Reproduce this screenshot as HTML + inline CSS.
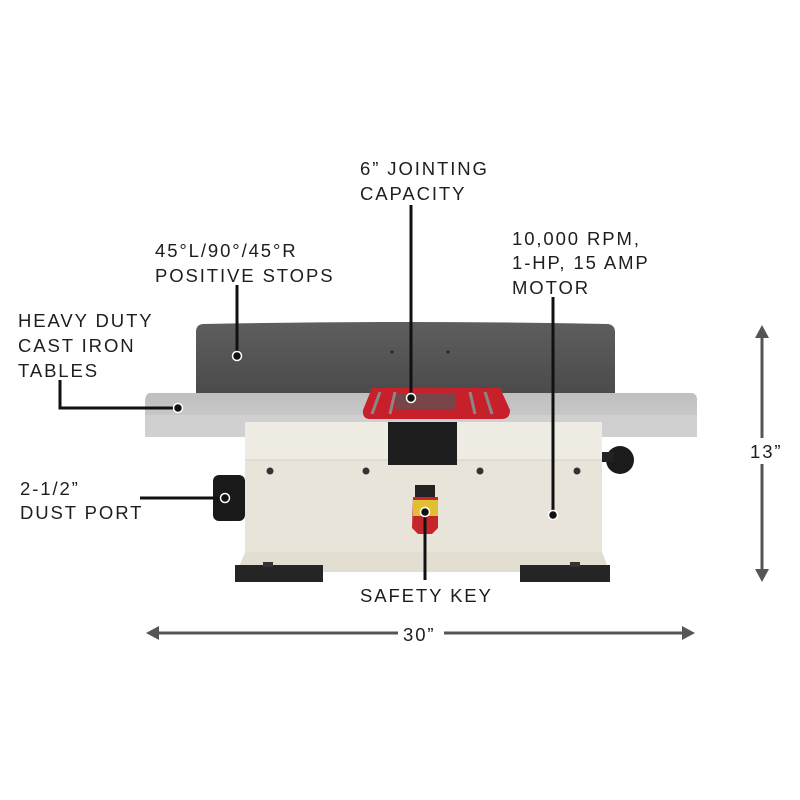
<!DOCTYPE html><html><head><style>body{margin:0;background:#fff}svg{display:block}text{font-family:"Liberation Sans",sans-serif;font-size:18.5px;fill:#1e1e1e;letter-spacing:1.9px}</style></head><body>
<svg width="800" height="800" viewBox="0 0 800 800">
<defs><linearGradient id="t" x1="0" y1="0" x2="0" y2="1"><stop offset="0" stop-color="#bfbfbf"/><stop offset="1" stop-color="#cfcfcf"/></linearGradient>
<linearGradient id="f" x1="0" y1="0" x2="0" y2="1"><stop offset="0" stop-color="#5e5e5e"/><stop offset="1" stop-color="#4a4a4a"/></linearGradient></defs>
<path d="M196,332 Q196,324 204,324 Q400,320 608,324 Q615,325 615,332 L615,396 L196,396 Z" fill="url(#f)"/>
<circle cx="392" cy="352" r="1.5" fill="#222"/><circle cx="448" cy="352" r="1.5" fill="#222"/>
<path d="M150,393 L692,393 Q698,394 697,402 L697,430 Q697,437 690,437 L150,437 Q145,437 145,430 L145,400 Q146,393 150,393Z" fill="url(#t)"/>
<rect x="145" y="415" width="552" height="22" fill="#d0d0d0"/>
<circle cx="620" cy="460" r="14" fill="#1b1b1b"/><rect x="600" y="452" width="14" height="10" fill="#222"/>
<rect x="213" y="475" width="32" height="46" rx="6" fill="#1a1a1a"/>
<rect x="245" y="422" width="357" height="130" fill="#e8e4d9"/>
<rect x="245" y="422" width="357" height="38" fill="#efece3"/>
<path d="M245,552 L602,552 L610,572 L237,572 Z" fill="#e2ded2"/>
<line x1="245" y1="460" x2="602" y2="460" stroke="#d5d0c4" stroke-width="1"/>
<rect x="235" y="565" width="88" height="17" fill="#252525"/>
<rect x="520" y="565" width="90" height="17" fill="#252525"/>
<rect x="263" y="562" width="10" height="5" fill="#333"/><rect x="570" y="562" width="10" height="5" fill="#333"/>
<circle cx="270" cy="471" r="3.5" fill="#333"/><circle cx="366" cy="471" r="3.5" fill="#333"/><circle cx="480" cy="471" r="3.5" fill="#333"/><circle cx="577" cy="471" r="3.5" fill="#333"/>
<rect x="388" y="422" width="69" height="43" fill="#1e1e1e"/>
<path d="M372,388 L500,388 L510,410 Q510,419 502,419 L370,419 Q362,419 363,410 Z" fill="#c8202a"/>
<rect x="395" y="393" width="60" height="16" fill="#555" opacity=".7"/>
<path d="M380,392 L372,414 M395,392 L390,414 M470,392 L475,414 M485,392 L492,414" stroke="#888" stroke-width="3"/>
<rect x="415" y="485" width="20" height="14" fill="#222"/>
<path d="M413,497 L438,497 L438,528 L432,534 L418,534 L412,528 Z" fill="#c4262c"/>
<path d="M413,500 L438,500 L438,516 L413,516 Z" fill="#e0c030"/>
<g stroke="#111" stroke-width="3" fill="none">
<path d="M60,380 L60,408 L178,408"/>
<path d="M237,285 L237,355"/>
<path d="M411,205 L411,398"/>
<path d="M553,297 L553,515"/>
<path d="M140,498 L225,498"/>
<path d="M425,512 L425,580"/>
</g>
<g fill="#111" stroke="#fff" stroke-width="1.5">
<circle cx="178" cy="408" r="4.5"/><circle cx="237" cy="356" r="4.5"/><circle cx="411" cy="398" r="4.5"/><circle cx="553" cy="515" r="4.5"/><circle cx="225" cy="498" r="4.5"/><circle cx="425" cy="512" r="4.5"/>
</g>
<g stroke="#555" stroke-width="3" fill="#555">
<line x1="762" y1="332" x2="762" y2="575"/>
<line x1="153" y1="633" x2="688" y2="633"/>
</g>
<g fill="#555">
<path d="M762,325 L755,338 L769,338Z"/><path d="M762,582 L755,569 L769,569Z"/>
<path d="M146,633 L159,626 L159,640Z"/><path d="M695,633 L682,626 L682,640Z"/>
</g>
<rect x="746" y="438" width="40" height="26" fill="#fff"/>
<rect x="398" y="622" width="46" height="22" fill="#fff"/>
<text x="18" y="327">HEAVY DUTY</text><text x="18" y="352">CAST IRON</text><text x="18" y="377">TABLES</text>
<text x="155" y="257">45°L/90°/45°R</text><text x="155" y="282">POSITIVE STOPS</text>
<text x="360" y="175">6” JOINTING</text><text x="360" y="200">CAPACITY</text>
<text x="512" y="245">10,000 RPM,</text><text x="512" y="269">1-HP, 15 AMP</text><text x="512" y="294">MOTOR</text>
<text x="20" y="495">2-1/2”</text><text x="20" y="519">DUST PORT</text>
<text x="360" y="602">SAFETY KEY</text>
<text x="750" y="458">13”</text>
<text x="403" y="641">30”</text>
</svg></body></html>
